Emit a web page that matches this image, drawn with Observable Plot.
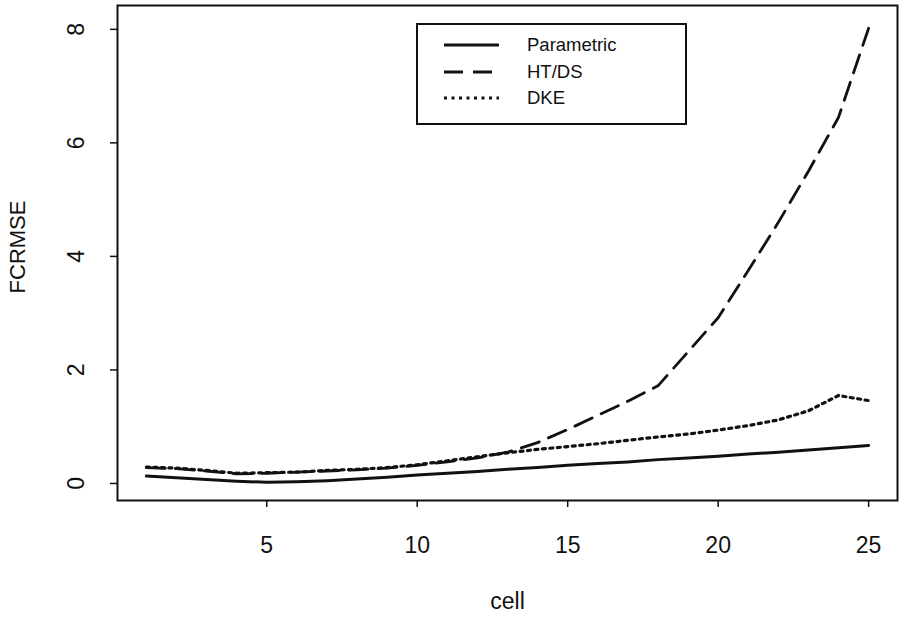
<!DOCTYPE html>
<html>
<head>
<meta charset="utf-8">
<script src="https://cdn.jsdelivr.net/npm/d3@7"></script>
<script src="https://cdn.jsdelivr.net/npm/@observablehq/plot@0.6"></script>
<style>
  html, body { margin: 0; padding: 0; background: #fff; }
  #wrap { position: relative; width: 900px; height: 617px; font-family: "Liberation Sans", Arial, sans-serif; }
  #legend { position: absolute; left: 416px; top: 23px; width: 271px; height: 102px; border: 2px solid #111; box-sizing: border-box; background: #fff; }
  #legend .row { position: absolute; left: 0; height: 24px; width: 100%; }
  #legend svg { position: absolute; left: 25px; top: 0; }
  #legend span { position: absolute; left: 109px; top: 0px; font-size: 18.5px; color: #111; line-height: 22px; }
</style>
</head>
<body>
<div id="wrap"></div>
<script>
const cells = [1,2,3,4,5,6,7,8,9,10,11,12,13,14,15,16,17,18,19,20,21,22,23,24,25];
const parametric = [0.13,0.10,0.07,0.04,0.02,0.03,0.05,0.08,0.11,0.15,0.18,0.21,0.25,0.28,0.32,0.35,0.38,0.42,0.45,0.48,0.52,0.55,0.59,0.63,0.67];
const htds = [0.28,0.26,0.22,0.17,0.18,0.20,0.22,0.24,0.27,0.32,0.38,0.45,0.55,0.72,0.95,1.20,1.45,1.72,2.32,2.92,3.75,4.60,5.50,6.45,8.02];
const dke = [0.29,0.27,0.23,0.18,0.19,0.20,0.23,0.25,0.28,0.33,0.40,0.47,0.54,0.60,0.65,0.70,0.76,0.82,0.87,0.94,1.02,1.12,1.28,1.55,1.46];
const seriesNames = ["Parametric", "HT/DS", "DKE"];
const xTicks = [5, 10, 15, 20, 25];
const yTicks = [0, 2, 4, 6, 8];

const rows = (vals) => cells.map((c, i) => ({cell: c, v: vals[i]}));
const ink = "#111";

const chart = Plot.plot({
  width: 900,
  height: 617,
  marginLeft: 117,
  marginRight: 3,
  marginTop: 5,
  marginBottom: 117,
  style: {fontFamily: "Liberation Sans, Arial, sans-serif", background: "#fff", color: ink},
  x: {domain: [0.04, 25.96]},
  y: {domain: [-0.3, 8.42]},
  marks: [
    Plot.axisX({ticks: xTicks, tickSize: 7, tickPadding: 29, fontSize: 23, label: null, strokeWidth: 1.5}),
    Plot.axisY({ticks: yTicks, tickSize: 7, tickPadding: 27, fontSize: 23, tickRotate: -90, label: null, strokeWidth: 1.5}),
    Plot.text(["cell"], {frameAnchor: "bottom", dy: 108, fontSize: 23, fill: ink}),
    Plot.text(["FCRMSE"], {frameAnchor: "left", textAnchor: "middle", dx: -100, dy: -6, rotate: -90, fontSize: 22, fill: ink}),
    Plot.frame({stroke: ink, strokeWidth: 2}),
    Plot.line(rows(parametric), {x: "cell", y: "v", stroke: ink, strokeWidth: 3}),
    Plot.line(rows(htds), {x: "cell", y: "v", stroke: ink, strokeWidth: 2.8, strokeDasharray: "19,10"}),
    Plot.line(rows(dke), {x: "cell", y: "v", stroke: ink, strokeWidth: 3.2, strokeDasharray: "3,4.5"})
  ]
});
document.getElementById("wrap").appendChild(chart);

// legend
const legend = document.createElement("div");
legend.id = "legend";
const dashes = ["none", "19,10", "3,4.5"];
const widths = [3, 2.8, 3.2];
seriesNames.forEach((name, i) => {
  const row = document.createElement("div");
  row.className = "row";
  row.style.top = (9 + i * 26.5) + "px";
  row.innerHTML = `<svg width="60" height="24"><line x1="1" x2="56" y1="11" y2="11" stroke="${ink}" stroke-width="${widths[i]}" ${dashes[i] === "none" ? "" : `stroke-dasharray="${dashes[i]}"`}/></svg><span>${name}</span>`;
  legend.appendChild(row);
});
document.getElementById("wrap").appendChild(legend);
</script>
</body>
</html>
